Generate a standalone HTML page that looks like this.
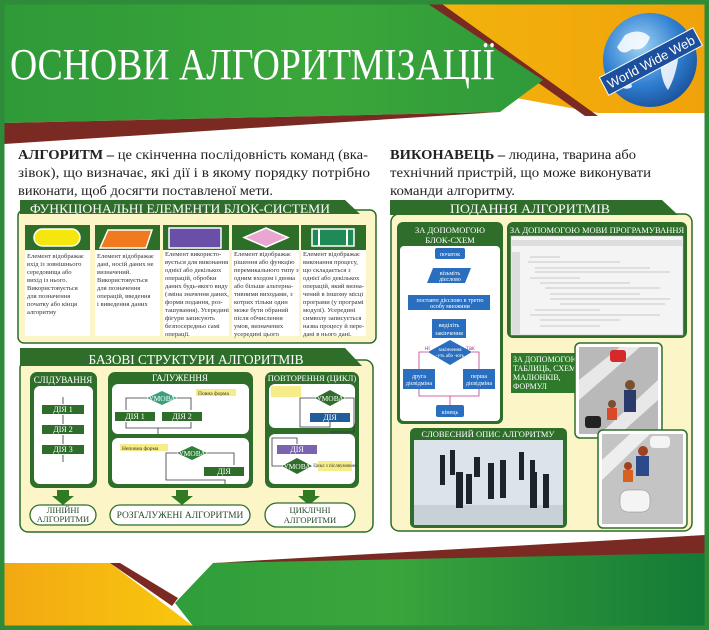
<!DOCTYPE html>
<html><head><meta charset="utf-8"><style>
html,body{margin:0;padding:0;background:#fff}
svg{display:block}
text{font-family:"Liberation Serif","DejaVu Serif",serif}
.s{font-family:"Liberation Sans","DejaVu Sans",sans-serif}
</style></head><body>
<svg width="709" height="630" viewBox="0 0 709 630" xmlns="http://www.w3.org/2000/svg">
<defs>
<linearGradient id="yel" x1="0" x2="1"><stop offset="0" stop-color="#f8cf10"/><stop offset="1" stop-color="#f0a20a"/></linearGradient>
<linearGradient id="yel2" x1="0" x2="1"><stop offset="0" stop-color="#f3a812"/><stop offset="1" stop-color="#f8c80e"/></linearGradient>
<linearGradient id="grn" x1="0" x2="1"><stop offset="0" stop-color="#2f9a38"/><stop offset="0.6" stop-color="#3aa63a"/><stop offset="1" stop-color="#2f9a3a"/></linearGradient>
<linearGradient id="grn2" x1="0" x2="1"><stop offset="0" stop-color="#2f9e3a"/><stop offset="0.4" stop-color="#3ba53c"/><stop offset="1" stop-color="#137a36"/></linearGradient>
<radialGradient id="glb" cx="0.4" cy="0.35" r="0.7"><stop offset="0" stop-color="#9fd4f5"/><stop offset="0.6" stop-color="#2f7fd0"/><stop offset="1" stop-color="#1a4f9a"/></radialGradient>
</defs>
<rect width="709" height="630" fill="#fff"/>
<!-- top -->
<polygon points="4,4 440,4 705,4 705,113 598,113" fill="url(#yel)"/>
<polygon points="427,4 442,4 598,116 585,116" fill="#7a2a22"/>
<polygon points="4,4 428,4 543,80 500,112 4,123" fill="url(#grn)"/>
<polygon points="4,123 500,112 4,144" fill="#7a2a22"/>
<text x="10" y="79" font-size="44" fill="#fff" textLength="485" lengthAdjust="spacingAndGlyphs">ОСНОВИ АЛГОРИТМІЗАЦІЇ</text>
<circle cx="650" cy="60" r="47" fill="url(#glb)"/>
<path d="M625 35 q15 -8 25 2 q-5 15 -18 12 q-10 8 -15 -2z M660 55 q12 -5 18 5 q-3 18 -10 30 q-8 -10 -8 -35z M620 75 q10 0 12 12 q-8 5 -14 -4z" fill="#fff" opacity="0.85"/>
<g transform="rotate(-28 650 62)"><rect x="598" y="52" width="106" height="20" fill="#1c4f9c" stroke="#fff" stroke-width="1"/>
<text x="651" y="67" font-size="13" fill="#fff" text-anchor="middle" class="s">World Wide Web</text></g>
<!-- bottom -->
<polygon points="705,535 213,563 705,555" fill="#7a2a22"/>
<polygon points="213,563 705,553 705,626 193,626 175,603" fill="url(#grn2)"/>
<polygon points="4,563 110,563 193,626 4,626" fill="url(#yel2)"/>
<polygon points="110,563 120,563 178,598 172,606" fill="#7a2a22"/>
<rect x="2" y="2" width="705" height="626" fill="none" stroke="#2e8b3a" stroke-width="5"/>
<!-- definitions -->
<g font-size="14" fill="#222">
<text x="18" y="159" textLength="350" lengthAdjust="spacingAndGlyphs"><tspan font-weight="bold">АЛГОРИТМ –</tspan> це скінченна послідовність команд (вка-</text>
<text x="18" y="177" textLength="352" lengthAdjust="spacingAndGlyphs">зівок), що визначає, які дії і в якому порядку потрібно</text>
<text x="18" y="195" textLength="255" lengthAdjust="spacingAndGlyphs">виконати, щоб досягти поставленої мети.</text>
<text x="390" y="159" textLength="246" lengthAdjust="spacingAndGlyphs"><tspan font-weight="bold">ВИКОНАВЕЦЬ –</tspan> людина, тварина або</text>
<text x="390" y="177" textLength="261" lengthAdjust="spacingAndGlyphs">технічний пристрій, що може виконувати</text>
<text x="390" y="195" textLength="125" lengthAdjust="spacingAndGlyphs">команди алгоритму.</text>
</g>
<!-- panel 1 -->
<rect x="18" y="210" width="358" height="133" rx="6" fill="#fbf5c8" stroke="#2d6b2a" stroke-width="1.5"/>
<polygon points="20,200 345,200 360,214 20,214" fill="#2f6e2a"/>
<text x="30" y="213" font-size="13" fill="#fff" textLength="300" lengthAdjust="spacingAndGlyphs">ФУНКЦІОНАЛЬНІ ЕЛЕМЕНТИ БЛОК-СИСТЕМИ</text>
<g>
<rect x="25" y="225" width="65" height="25" fill="#2d6e28"/><rect x="25" y="250" width="65" height="86" fill="#fff"/>
<rect x="95" y="225" width="65" height="25" fill="#2d6e28"/><rect x="95" y="250" width="65" height="86" fill="#fff"/>
<rect x="163" y="225" width="66" height="25" fill="#2d6e28"/><rect x="163" y="250" width="66" height="86" fill="#fff"/>
<rect x="232" y="225" width="67" height="25" fill="#2d6e28"/><rect x="232" y="250" width="67" height="86" fill="#fff"/>
<rect x="301" y="225" width="65" height="25" fill="#2d6e28"/><rect x="301" y="250" width="65" height="86" fill="#fff"/>
<rect x="34" y="229" width="46" height="17" rx="8.5" fill="#f5e60e" stroke="#fff" stroke-width="1.5"/>
<polygon points="108,230 152,230 146,248 100,248" fill="#ef7a1f" stroke="#fff" stroke-width="1.5"/>
<rect x="169" y="228" width="52" height="20" fill="#6a4fa8" stroke="#fff" stroke-width="1.5"/>
<polygon points="266,228 288,237.5 266,247 244,237.5" fill="#e9a6d3" stroke="#fff" stroke-width="1.5"/>
<rect x="312" y="229" width="42" height="17" fill="#1f8a55" stroke="#fff" stroke-width="1.5"/><rect x="318" y="229" width="2" height="17" fill="#fff"/><rect x="346" y="229" width="2" height="17" fill="#fff"/>
</g>
<g font-size="6.6" fill="#333">
<text x="27" y="258">Елемент відображає</text><text x="27" y="266">вхід із зовнішнього</text><text x="27" y="274">середовища або</text><text x="27" y="282">вихід із нього.</text><text x="27" y="290">Використовується</text><text x="27" y="298">для позначення</text><text x="27" y="306">початку або кінця</text><text x="27" y="314">алгоритму</text>
<text x="97" y="258">Елемент відображає</text><text x="97" y="266">дані, носій даних не</text><text x="97" y="274">визначений.</text><text x="97" y="282">Використовується</text><text x="97" y="290">для позначення</text><text x="97" y="298">операцій, введення</text><text x="97" y="306">і виведення даних</text>
<text x="165" y="256">Елемент використо-</text><text x="165" y="264">вується для виконання</text><text x="165" y="272">однієї або декількох</text><text x="165" y="280">операцій, обробки</text><text x="165" y="288">даних будь-якого виду</text><text x="165" y="296">(зміна значення даних,</text><text x="165" y="304">форми подання, роз-</text><text x="165" y="312">ташування). Усередині</text><text x="165" y="320">фігури записують</text><text x="165" y="328">безпосередньо самі</text><text x="165" y="336">операції.</text>
<text x="234" y="256">Елемент відображає</text><text x="234" y="264">рішення або функцію</text><text x="234" y="272">перемикального типу з</text><text x="234" y="280">одним входом і двома</text><text x="234" y="288">або більше альтерна-</text><text x="234" y="296">тивними виходами, з</text><text x="234" y="304">котрих тільки один</text><text x="234" y="312">може бути обраний</text><text x="234" y="320">після обчислення</text><text x="234" y="328">умов, визначених</text><text x="234" y="336">усередині цього</text>
<text x="303" y="256">Елемент відображає</text><text x="303" y="264">виконання процесу,</text><text x="303" y="272">що складається з</text><text x="303" y="280">однієї або декількох</text><text x="303" y="288">операцій, який визна-</text><text x="303" y="296">чений в іншому місці</text><text x="303" y="304">програми (у програмі</text><text x="303" y="312">модулі). Усередині</text><text x="303" y="320">символу записується</text><text x="303" y="328">назва процесу й пере-</text><text x="303" y="336">дані в нього дані.</text>
</g>
<!-- panel 2 -->
<rect x="20" y="360" width="353" height="172" rx="8" fill="#fbf5c8" stroke="#2d6b2a" stroke-width="1.5"/>
<polygon points="20,348 345,348 362,366 20,366" fill="#2f6e2a"/>
<text x="196" y="364" font-size="14" fill="#fff" text-anchor="middle" textLength="215" lengthAdjust="spacingAndGlyphs">БАЗОВІ СТРУКТУРИ АЛГОРИТМІВ</text>
<!-- слідування -->
<rect x="30" y="372" width="67" height="116" rx="7" fill="#2f6e2a"/>
<rect x="34" y="386" width="59" height="98" rx="6" fill="#fff"/>
<text x="63" y="383" font-size="9" fill="#fff" text-anchor="middle">СЛІДУВАННЯ</text>
<g fill="#2f6e2a"><rect x="42" y="405" width="42" height="9"/><rect x="42" y="425" width="42" height="9"/><rect x="42" y="445" width="42" height="9"/></g>
<g font-size="8" fill="#fff" text-anchor="middle"><text x="63" y="412">ДІЯ 1</text><text x="63" y="432">ДІЯ 2</text><text x="63" y="452">ДІЯ 3</text></g>
<g stroke="#333" stroke-width="0.8"><line x1="63" y1="397" x2="63" y2="404"/><line x1="63" y1="415" x2="63" y2="424"/><line x1="63" y1="435" x2="63" y2="444"/><line x1="63" y1="455" x2="63" y2="462"/></g>
<!-- галуження -->
<rect x="108" y="372" width="145" height="116" rx="7" fill="#2f6e2a"/>
<rect x="112" y="384" width="137" height="50" rx="6" fill="#fff"/>
<rect x="112" y="438" width="137" height="46" rx="6" fill="#fff"/>
<text x="180" y="381" font-size="9" fill="#fff" text-anchor="middle">ГАЛУЖЕННЯ</text>
<rect x="196" y="389" width="40" height="7" fill="#f7ec8a"/><text x="198" y="395" font-size="5.5" fill="#333">Повна форма</text>
<polygon points="162,391 177,398 162,405 147,398" fill="#3aa07a"/><text x="162" y="401" font-size="7.5" fill="#fff" text-anchor="middle">УМОВА</text>
<rect x="115" y="412" width="40" height="9" fill="#2f6e2a"/><rect x="162" y="412" width="40" height="9" fill="#2f6e2a"/>
<g font-size="8" fill="#fff" text-anchor="middle"><text x="135" y="419">ДІЯ 1</text><text x="182" y="419">ДІЯ 2</text></g>
<g stroke="#334" stroke-width="0.8" fill="none"><polyline points="147,398 126,398 126,410"/><polyline points="177,398 191,398 191,410"/><polyline points="126,422 126,428 191,428 191,422"/><line x1="158" y1="428" x2="158" y2="434"/></g>
<rect x="120" y="444" width="48" height="7" fill="#f7ec8a"/><text x="122" y="450" font-size="5.5" fill="#333">Неповна форма</text>
<polygon points="192,446 207,453 192,460 177,453" fill="#2f7e3a"/><text x="192" y="456" font-size="7.5" fill="#fff" text-anchor="middle">УМОВА</text>
<rect x="204" y="467" width="40" height="9" fill="#2f6e2a"/><text x="224" y="474" font-size="8" fill="#fff" text-anchor="middle">ДІЯ</text>
<g stroke="#334" stroke-width="0.8" fill="none"><polyline points="207,453 234,453 234,465"/><polyline points="177,453 166,453 166,480 225,480 225,484"/></g>
<!-- повторення -->
<rect x="265" y="372" width="94" height="116" rx="7" fill="#2f6e2a"/>
<rect x="269" y="384" width="86" height="44" rx="6" fill="#fff"/>
<rect x="269" y="434" width="86" height="50" rx="6" fill="#fff"/>
<text x="312" y="381" font-size="8.5" fill="#fff" text-anchor="middle">ПОВТОРЕННЯ (ЦИКЛ)</text>
<rect x="271" y="386" width="30" height="11" fill="#f7ec8a"/>
<polygon points="330,390 345,398 330,406 315,398" fill="#2f6e2a"/><text x="330" y="401" font-size="7.5" fill="#fff" text-anchor="middle">УМОВА</text>
<rect x="310" y="413" width="40" height="9" fill="#1f5e9a"/><text x="330" y="420" font-size="8" fill="#fff" text-anchor="middle">ДІЯ</text>
<rect x="277" y="445" width="40" height="9" fill="#7a63b0"/><text x="297" y="452" font-size="8" fill="#fff" text-anchor="middle">ДІЯ</text>
<polygon points="297,458 312,466 297,474 282,466" fill="#2f6e2a"/><text x="297" y="469" font-size="7.5" fill="#fff" text-anchor="middle">УМОВА</text>
<rect x="318" y="461" width="34" height="10" fill="#f7ec8a"/><text x="335" y="467" font-size="5" fill="#333" text-anchor="middle">Цикл з післяумовою</text>
<g stroke="#334" stroke-width="0.8" fill="none"><polyline points="345,398 354,398 354,432 330,432"/><polyline points="330,422 330,427 300,427 300,398 315,398"/><polyline points="282,466 272,466 272,438 297,438 297,444"/></g>
<!-- big arrows -->
<g fill="#2f7a22"><polygon points="57,490 69,490 69,496 74,496 63,505 52,496 57,496"/><polygon points="176,490 188,490 188,496 193,496 182,505 171,496 176,496"/><polygon points="303,490 315,490 315,496 320,496 309,505 298,496 303,496"/></g>
<g fill="#fff" stroke="#2f6e2a" stroke-width="1.3"><rect x="30" y="505" width="66" height="20" rx="10"/><rect x="110" y="505" width="140" height="20" rx="10"/><rect x="265" y="503" width="90" height="24" rx="12"/></g>
<g font-size="8.5" fill="#2a4a2a" text-anchor="middle"><text x="63" y="513">ЛІНІЙНІ</text><text x="63" y="522">АЛГОРИТМИ</text><text x="180" y="518" font-size="9.5">РОЗГАЛУЖЕНІ АЛГОРИТМИ</text><text x="310" y="513">ЦИКЛІЧНІ</text><text x="310" y="523">АЛГОРИТМИ</text></g>
<!-- panel 3 -->
<rect x="391" y="214" width="301" height="317" rx="8" fill="#fbf5c8" stroke="#2d6b2a" stroke-width="1.5"/>
<polygon points="390,200 662,200 678,215 390,215" fill="#2f6e2a"/>
<text x="530" y="213" font-size="13" fill="#fff" text-anchor="middle" textLength="160" lengthAdjust="spacingAndGlyphs">ПОДАННЯ  АЛГОРИТМІВ</text>
<!-- блок-схем -->
<rect x="397" y="222" width="106" height="202" rx="6" fill="#2f6e2a"/>
<rect x="400" y="246" width="100" height="175" rx="4" fill="#fff"/>
<text x="450" y="233" font-size="8.5" fill="#fff" text-anchor="middle">ЗА ДОПОМОГОЮ</text><text x="450" y="243" font-size="8.5" fill="#fff" text-anchor="middle">БЛОК-СХЕМ</text>
<g fill="#2a6fbf"><rect x="435" y="248" width="30" height="11" rx="2"/><polygon points="433,268 471,268 465,283 427,283"/><rect x="408" y="295" width="82" height="15"/><rect x="432" y="319" width="34" height="19"/><polygon points="450,340 472,352 450,365 428,352"/><rect x="403" y="369" width="32" height="20"/><rect x="463" y="369" width="32" height="20"/><rect x="436" y="405" width="28" height="12" rx="2"/></g>
<g font-size="6" fill="#fff" text-anchor="middle" class="s"><text x="450" y="256">початок</text><text x="450" y="275">візьміть</text><text x="450" y="281">дієслово</text><text x="450" y="302">поставте дієслово в третю</text><text x="450" y="308">особу множини</text><text x="449" y="327">виділіть</text><text x="449" y="335">закінчення</text><text x="450" y="351" font-size="5">закінчення</text><text x="450" y="357" font-size="5">-уть або -ють</text><text x="419" y="378">друга</text><text x="419" y="385">дієвідміна</text><text x="479" y="378">перша</text><text x="479" y="385">дієвідміна</text><text x="450" y="414">кінець</text></g>
<g stroke="#c03a8a" stroke-width="0.8" fill="none"><polyline points="428,352 419,352 419,369"/><polyline points="472,352 479,352 479,369"/><polyline points="419,389 419,396 479,396 479,389"/><line x1="450" y1="396" x2="450" y2="405"/></g>
<text x="425" y="350" font-size="6" fill="#c03a8a" class="s">ні</text><text x="466" y="350" font-size="6" fill="#c03a8a" class="s">так</text>
<!-- мова -->
<rect x="507" y="222" width="180" height="116" rx="6" fill="#2f6e2a"/>
<rect x="511" y="236" width="172" height="99" fill="#f4f4f4" stroke="#bbb" stroke-width="0.5"/>
<text x="597" y="233" font-size="8.5" fill="#fff" text-anchor="middle">ЗА ДОПОМОГОЮ МОВИ ПРОГРАМУВАННЯ</text>
<rect x="512" y="240" width="170" height="6" fill="#ddd"/><rect x="512" y="252" width="8" height="82" fill="#ddd"/>
<g stroke="#999" stroke-width="0.6">
<line x1="530" y1="257" x2="560" y2="257"/><line x1="528" y1="262" x2="620" y2="262"/><line x1="535" y1="268" x2="650" y2="268"/><line x1="535" y1="272" x2="670" y2="272"/><line x1="530" y1="278" x2="580" y2="278"/><line x1="540" y1="283" x2="630" y2="283"/><line x1="545" y1="288" x2="660" y2="288"/><line x1="550" y1="294" x2="640" y2="294"/><line x1="550" y1="299" x2="670" y2="299"/><line x1="560" y1="304" x2="665" y2="304"/><line x1="535" y1="310" x2="600" y2="310"/><line x1="530" y1="315" x2="660" y2="315"/><line x1="540" y1="320" x2="620" y2="320"/><line x1="540" y1="326" x2="600" y2="326"/></g>
<!-- таблиць text -->
<rect x="511" y="353" width="64" height="40" fill="#2f7a2a"/>
<g font-size="8" fill="#fff"><text x="513" y="362">ЗА ДОПОМОГОЮ</text><text x="513" y="371">ТАБЛИЦЬ, СХЕМ,</text><text x="513" y="380">МАЛЮНКІВ,</text><text x="513" y="389">ФОРМУЛ</text></g>
<!-- pictures -->
<rect x="575" y="343" width="87" height="95" rx="5" fill="#fff" stroke="#2f6e2a" stroke-width="1.5"/>
<rect x="579" y="347" width="79" height="87" fill="#b9b9b9"/>
<polygon points="579,380 620,347 640,347 579,400" fill="#e8e8e8"/><polygon points="600,434 658,380 658,400 620,434" fill="#e8e8e8"/>
<rect x="610" y="350" width="16" height="12" rx="3" fill="#d52a2a"/><rect x="585" y="416" width="16" height="12" rx="3" fill="#222"/>
<circle cx="630" cy="385" r="5" fill="#7a5030"/><rect x="624" y="390" width="12" height="22" fill="#2a3a6a"/><circle cx="612" cy="404" r="4" fill="#7a5030"/><rect x="607" y="408" width="10" height="12" fill="#d84a2a"/>
<rect x="598" y="430" width="89" height="98" rx="5" fill="#fff" stroke="#2f6e2a" stroke-width="1.5"/>
<rect x="602" y="434" width="81" height="90" fill="#c4c4c4"/>
<polygon points="602,460 630,434 650,434 602,480" fill="#eee"/><rect x="620" y="490" width="30" height="22" rx="8" fill="#f4f4f4" stroke="#888" stroke-width="0.5"/><rect x="650" y="436" width="20" height="12" rx="4" fill="#f4f4f4"/>
<circle cx="643" cy="451" r="5" fill="#a04020"/><rect x="636" y="456" width="13" height="20" fill="#2c4a8a"/><circle cx="628" cy="466" r="4" fill="#a04020"/><rect x="623" y="470" width="10" height="12" fill="#d86020"/>
<!-- словесний -->
<rect x="410" y="428" width="157" height="100" rx="5" fill="#2f6e2a"/>
<rect x="414" y="440" width="149" height="85" fill="#dde3ea"/>
<rect x="414" y="505" width="149" height="20" fill="#c8d0d8"/>
<text x="488" y="437" font-size="8.5" fill="#fff" text-anchor="middle">СЛОВЕСНИЙ ОПИС АЛГОРИТМУ</text>
<g fill="#1c232b">
<rect x="440" y="455" width="5" height="30"/><rect x="450" y="450" width="5" height="25"/><rect x="474" y="457" width="6" height="20"/><rect x="488" y="463" width="6" height="36"/><rect x="500" y="460" width="6" height="38"/><rect x="519" y="452" width="5" height="28"/><rect x="530" y="460" width="5" height="24"/><rect x="530" y="472" width="7" height="36"/><rect x="543" y="474" width="6" height="34"/><rect x="456" y="472" width="7" height="36"/><rect x="466" y="474" width="6" height="30"/>
</g>
</svg>
</body></html>
